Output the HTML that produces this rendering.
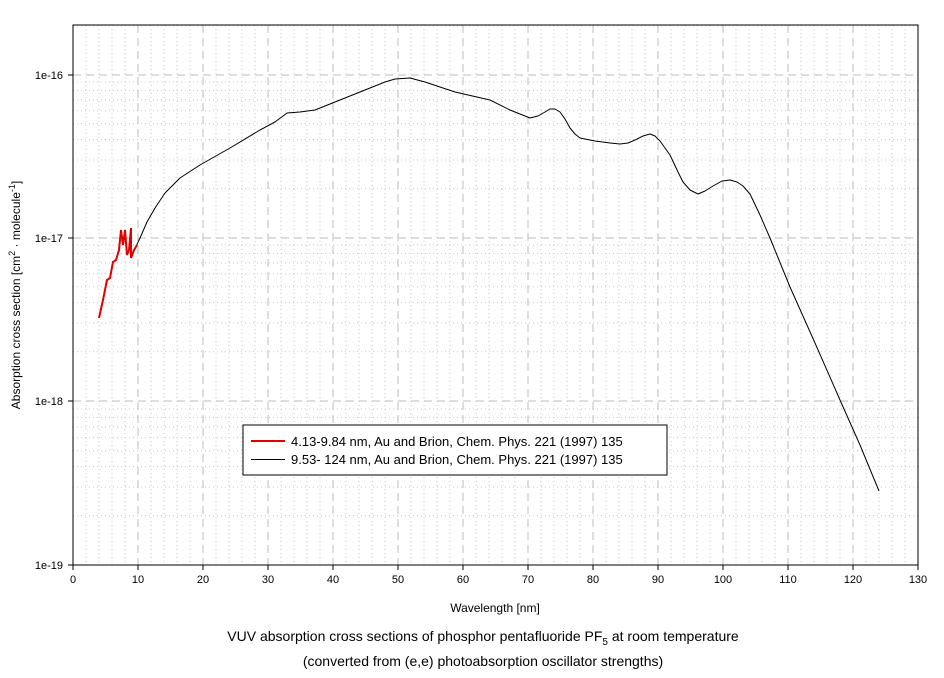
<!DOCTYPE html>
<html><head><meta charset="utf-8"><style>
body{margin:0;background:#fff;}
svg text{font-family:"Liberation Sans",sans-serif;fill:#000;}
</style></head><body>
<svg id="s" width="944" height="673" xmlns="http://www.w3.org/2000/svg">
<rect width="944" height="673" fill="#fff"/>
<g id="grid"></g>
<rect x="73" y="25" width="845" height="540" fill="none" stroke="#000" stroke-width="1"/>
<g id="ticks"></g>
<polyline fill="none" stroke="#000" stroke-width="1" stroke-linejoin="round" points="133,253 140,238 147,222 155,208 165,193 180,178 200,165 230,148 260,130 275,122 287,113 300,112 315,110 340,100 370,88 385,82 395,79 410,78 425,82 440,87 455,92 490,100 510,110 530,118 538,116 545,112 550,109 555,109 560,112 565,119 570,128 575,134 580,138 595,141 610,143 620,144 628,143 635,140 643,136 650,134 655,136 660,141 670,155 678,172 683,182 690,190 698,194 705,191 713,186 722,181 730,180 737,182 743,186 750,194 760,215 770,238 790,287 815,343 840,400 860,445 879,491"/>
<polyline fill="none" stroke="#e00000" stroke-width="2" points="99,318 103,300 107,280 110,278 113,262 116,260 119,250 121,230 123,245 125,230 127,255 129,250 131,228 131,258 134,250 137,245"/>
<rect x="243" y="425" width="424" height="50" fill="#fff" stroke="#000"/>
<line x1="251" y1="441" x2="285" y2="441" stroke="#e00000" stroke-width="2"/>
<line x1="251" y1="459.5" x2="285" y2="459.5" stroke="#000"/>
<text x="291" y="446" font-size="13">4.13-9.84 nm, Au and Brion, Chem. Phys. 221 (1997) 135</text>
<text x="291" y="464" font-size="13">9.53- 124 nm, Au and Brion, Chem. Phys. 221 (1997) 135</text>
<text x="495" y="612" font-size="12" text-anchor="middle">Wavelength [nm]</text>
<text transform="translate(20,295) rotate(-90)" font-size="12" text-anchor="middle">Absorption cross section [cm<tspan font-size="9" dy="-5">2</tspan><tspan dy="5"> · molecule</tspan><tspan font-size="9" dy="-5">-1</tspan><tspan dy="5">]</tspan></text>
<text x="483" y="641" font-size="14" text-anchor="middle">VUV absorption cross sections of phosphor pentafluoride PF<tspan font-size="10" dy="4">5</tspan><tspan dy="-4"> at room temperature</tspan></text>
<text x="483" y="666" font-size="14" text-anchor="middle">(converted from (e,e) photoabsorption oscillator strengths)</text>
</svg>
<script>
var ns="http://www.w3.org/2000/svg",g=document.getElementById("grid"),t=document.getElementById("ticks");
function el(p,n,a){var e=document.createElementNS(ns,n);for(var k in a)e.setAttribute(k,a[k]);p.appendChild(e);return e;}
var X=function(v){return 73+6.5*v;};
var decY=[75,238,401,565];
for(var v=2;v<130;v+=2){if(v%10==0)continue;var x=X(v);el(g,"line",{x1:x,x2:x,y1:25,y2:565,stroke:"#c8c8c8","stroke-dasharray":"1,3"});}
for(var d=0;d<4;d++){for(var m=2;m<10;m++){var y=decY[d]-163.5*Math.log10(m);if(y<25)continue;el(g,"line",{x1:73,x2:918,y1:y,y2:y,stroke:"#c8c8c8","stroke-dasharray":"1,3"});}}
for(var v=10;v<130;v+=10){var x=X(v);el(g,"line",{x1:x,x2:x,y1:25,y2:565,stroke:"#bdbdbd","stroke-dasharray":"8,5"});}
for(var d=0;d<3;d++){el(g,"line",{x1:73,x2:918,y1:decY[d],y2:decY[d],stroke:"#bdbdbd","stroke-dasharray":"8,5"});}
for(var v=0;v<=130;v+=10){var x=X(v);el(t,"line",{x1:x,x2:x,y1:565,y2:570,stroke:"#000"});var tx=el(t,"text",{x:x,y:583,"font-size":"11","text-anchor":"middle"});tx.textContent=v;}
var lab=["1e-16","1e-17","1e-18","1e-19"];
for(var d=0;d<4;d++){el(t,"line",{x1:68,x2:73,y1:decY[d],y2:decY[d],stroke:"#000"});var tx=el(t,"text",{x:63,y:decY[d]+4,"font-size":"11","text-anchor":"end"});tx.textContent=lab[d];}
</script>
</body></html>
